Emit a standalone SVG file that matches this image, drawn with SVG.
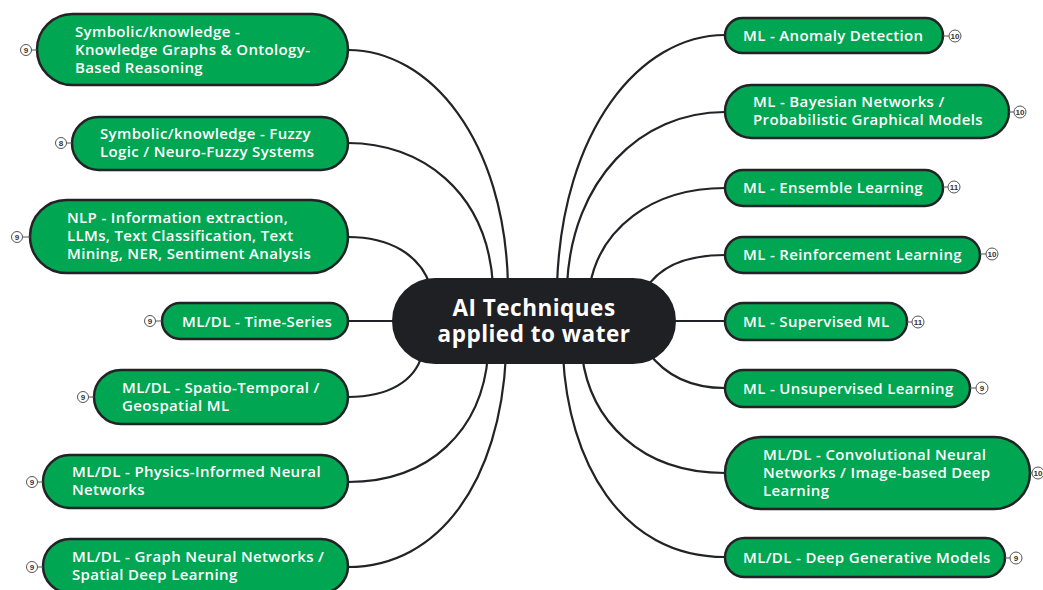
<svg xmlns="http://www.w3.org/2000/svg" width="1043" height="590" viewBox="0 0 1043 590">
<style>
.bg{fill:#ffffff}
.conn path{fill:none;stroke:#222326;stroke-width:2.2}
.node rect{fill:#00a651;stroke:#222326;stroke-width:2.5}
.node text{fill:#ffffff;font-family:"Open Sans","Liberation Sans",sans-serif;font-weight:600;font-size:15px;letter-spacing:0.35px}
.badge circle{fill:#ffffff;stroke:#555;stroke-width:1}
.badge line{stroke:#555;stroke-width:1}
.badge text{fill:#333;font-family:"Liberation Sans",sans-serif;font-size:8px;letter-spacing:0;text-anchor:middle}
.center rect{fill:#1f2024;stroke:#1f2024;stroke-width:2}
.center text{fill:#ffffff;font-family:"Open Sans","Liberation Sans",sans-serif;font-weight:700;font-size:22.5px;letter-spacing:0.5px;text-anchor:middle}
</style>
<rect class="bg" x="0" y="0" width="1043" height="590"/>
<g id="connectors" class="conn">
<path d="M348,50 C430,50 505,140 508,285"/>
<path d="M348,143 C420,143 487,190 493,285"/>
<path d="M348,237 C390,237 420,255 430,285"/>
<path d="M348,321 L400,321"/>
<path d="M348,397 C390,397 415,380 422,355"/>
<path d="M348,482 C430,482 482,430 488,355"/>
<path d="M348,567 C440,567 500,480 506,355"/>
<path d="M725,35 C640,35 562,130 557,285"/>
<path d="M725,112 C640,112 572,180 567,285"/>
<path d="M725,188 C650,188 600,230 590,285"/>
<path d="M725,255 C690,255 660,265 645,290"/>
<path d="M725,321 L668,321"/>
<path d="M725,388 C690,388 665,375 648,352"/>
<path d="M725,473 C640,473 590,420 582,355"/>
<path d="M725,557 C620,557 568,460 563,355"/>
</g>
<g id="center" class="center">
<rect x="393" y="279" width="282" height="84" rx="42"/>
<text x="534" y="316">AI Techniques</text>
<text x="534" y="342">applied to water</text>
</g>
<g id="n-kg" class="node">
<rect x="37" y="14" width="311" height="71" rx="35.5"/>
<text x="75" y="37">Symbolic/knowledge -</text>
<text x="75" y="55">Knowledge Graphs &amp; Ontology-</text>
<text x="75" y="73">Based Reasoning</text>
<g class="badge"><line x1="31" y1="50" x2="37" y2="50"/><circle cx="26" cy="50" r="5.5"/><text x="26" y="52.8">9</text></g>
</g>
<g id="n-fuzzy" class="node">
<rect x="72" y="117" width="276" height="53" rx="26.5"/>
<text x="100" y="139">Symbolic/knowledge - Fuzzy</text>
<text x="100" y="157">Logic / Neuro-Fuzzy Systems</text>
<g class="badge"><line x1="66" y1="143" x2="72" y2="143"/><circle cx="61" cy="143" r="5.5"/><text x="61" y="145.8">8</text></g>
</g>
<g id="n-nlp" class="node">
<rect x="30" y="200" width="318" height="73" rx="36.5"/>
<text x="67" y="223">NLP - Information extraction,</text>
<text x="67" y="241">LLMs, Text Classification, Text</text>
<text x="67" y="259">Mining, NER, Sentiment Analysis</text>
<g class="badge"><line x1="22" y1="237" x2="30" y2="237"/><circle cx="17" cy="237" r="5.5"/><text x="17" y="239.8">9</text></g>
</g>
<g id="n-ts" class="node">
<rect x="162" y="303" width="186" height="36" rx="18"/>
<text x="182" y="327">ML/DL - Time-Series</text>
<g class="badge"><line x1="155" y1="321" x2="162" y2="321"/><circle cx="150" cy="321" r="5.5"/><text x="150" y="323.8">9</text></g>
</g>
<g id="n-st" class="node">
<rect x="94" y="370" width="254" height="54" rx="27"/>
<text x="122" y="393">ML/DL - Spatio-Temporal /</text>
<text x="122" y="411">Geospatial ML</text>
<g class="badge"><line x1="88" y1="397" x2="94" y2="397"/><circle cx="83" cy="397" r="5.5"/><text x="83" y="399.8">9</text></g>
</g>
<g id="n-pinn" class="node">
<rect x="43" y="455" width="305" height="53" rx="26.5"/>
<text x="72" y="477">ML/DL - Physics-Informed Neural</text>
<text x="72" y="495">Networks</text>
<g class="badge"><line x1="37" y1="482" x2="43" y2="482"/><circle cx="32" cy="482" r="5.5"/><text x="32" y="484.8">9</text></g>
</g>
<g id="n-gnn" class="node">
<rect x="43" y="539" width="305" height="54" rx="27"/>
<text x="72" y="562">ML/DL - Graph Neural Networks /</text>
<text x="72" y="580">Spatial Deep Learning</text>
<g class="badge"><line x1="37" y1="567" x2="43" y2="567"/><circle cx="32" cy="567" r="5.5"/><text x="32" y="569.8">9</text></g>
</g>
<g id="n-anom" class="node">
<rect x="725" y="18" width="218" height="35" rx="17.5"/>
<text x="743" y="41">ML - Anomaly Detection</text>
<g class="badge"><line x1="943" y1="36" x2="949" y2="36"/><circle cx="955" cy="36" r="6"/><text x="955" y="38.8">10</text></g>
</g>
<g id="n-bayes" class="node">
<rect x="725" y="85" width="284" height="53" rx="26.5"/>
<text x="753" y="107">ML - Bayesian Networks /</text>
<text x="753" y="125">Probabilistic Graphical Models</text>
<g class="badge"><line x1="1009" y1="112" x2="1014" y2="112"/><circle cx="1020" cy="112" r="6"/><text x="1020" y="114.8">10</text></g>
</g>
<g id="n-ens" class="node">
<rect x="725" y="170" width="218" height="36" rx="18"/>
<text x="743" y="193">ML - Ensemble Learning</text>
<g class="badge"><line x1="943" y1="187" x2="948" y2="187"/><circle cx="954" cy="187" r="6"/><text x="954" y="189.8">11</text></g>
</g>
<g id="n-rl" class="node">
<rect x="725" y="237" width="255" height="36" rx="18"/>
<text x="743" y="260">ML - Reinforcement Learning</text>
<g class="badge"><line x1="980" y1="254" x2="986" y2="254"/><circle cx="992" cy="254" r="6"/><text x="992" y="256.8">10</text></g>
</g>
<g id="n-sup" class="node">
<rect x="725" y="303" width="182" height="37" rx="18.5"/>
<text x="743" y="327">ML - Supervised ML</text>
<g class="badge"><line x1="907" y1="322" x2="912" y2="322"/><circle cx="918" cy="322" r="6"/><text x="918" y="324.8">11</text></g>
</g>
<g id="n-unsup" class="node">
<rect x="725" y="370" width="245" height="37" rx="18.5"/>
<text x="743" y="394">ML - Unsupervised Learning</text>
<g class="badge"><line x1="970" y1="388" x2="976" y2="388"/><circle cx="982" cy="388" r="6"/><text x="982" y="390.8">9</text></g>
</g>
<g id="n-cnn" class="node">
<rect x="725" y="437" width="305" height="72" rx="36"/>
<text x="763" y="460">ML/DL - Convolutional Neural</text>
<text x="763" y="478">Networks / Image-based Deep</text>
<text x="763" y="496">Learning</text>
<g class="badge"><line x1="1030" y1="473" x2="1032" y2="473"/><circle cx="1038" cy="473" r="6"/><text x="1038" y="475.8">10</text></g>
</g>
<g id="n-gen" class="node">
<rect x="725" y="538" width="280" height="39" rx="19.5"/>
<text x="743" y="563">ML/DL - Deep Generative Models</text>
<g class="badge"><line x1="1005" y1="558" x2="1010" y2="558"/><circle cx="1016" cy="558" r="6"/><text x="1016" y="560.8">9</text></g>
</g>
</svg>
